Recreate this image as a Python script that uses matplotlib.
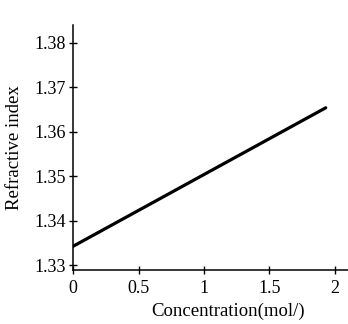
import numpy as np
import matplotlib.pyplot as plt

# data (straight calibration line)
concentration = [0.0, 1.93]
refractive_index = [1.3343, 1.3654]

x_ticks = [0, 0.5, 1, 1.5, 2]
x_tick_labels = ['0', '0.5', '1', '1.5', '2']
y_ticks = [1.33, 1.34, 1.35, 1.36, 1.37, 1.38]

plt.rcParams['font.family'] = ['Liberation Serif', 'DejaVu Serif']

fig = plt.figure(figsize=(3.48, 3.24), dpi=100)
ax = fig.add_axes([0.21, 0.167, 0.79, 0.756])

ax.plot(concentration, refractive_index, color='black', linewidth=2.3,
        solid_capstyle='round')

ax.set_xlim(0, 2.1)
ax.set_ylim(1.329, 1.384)
ax.set_xticks(x_ticks)
ax.set_xticklabels(x_tick_labels)
ax.set_yticks(y_ticks)
ax.set_yticklabels(['%.2f' % v for v in y_ticks])

for side in ['top', 'right']:
    ax.spines[side].set_visible(False)
for side in ['left', 'bottom']:
    ax.spines[side].set_linewidth(1.1)

ax.tick_params(axis='both', direction='inout', length=6, width=1.0,
               labelsize=13, pad=2)
ax.tick_params(axis='x', pad=4)

ax.set_xlabel('Concentration(mol/)', fontsize=13.5)
ax.set_ylabel('Refractive index', fontsize=13.5)
ax.xaxis.set_label_coords(0.564, -0.135)
ax.yaxis.set_label_coords(-0.183, 0.5)

fig.savefig('out.png', dpi=100)
